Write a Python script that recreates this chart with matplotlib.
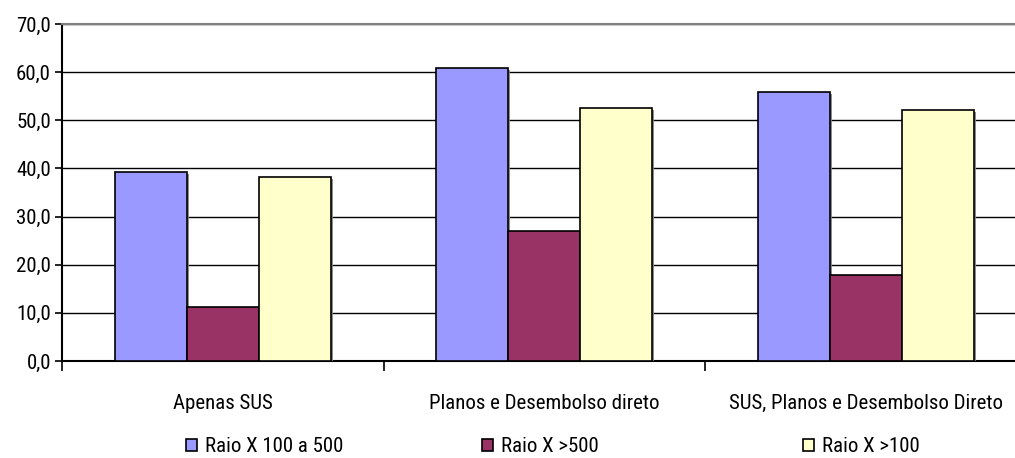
import matplotlib
matplotlib.use("Agg")
import matplotlib.pyplot as plt
from matplotlib.patches import Patch
from matplotlib import patheffects as pe

categories = ["Apenas SUS", "Planos e Desembolso direto", "SUS, Planos e Desembolso Direto"]
series_names = ["Raio X 100 a 500", "Raio X >500", "Raio X >100"]
raio_100_500 = [39.2, 60.8, 55.8]
raio_500 = [11.2, 26.9, 17.8]
raio_100 = [38.3, 52.5, 52.1]
colors = ["#9999FF", "#993366", "#FFFFCC"]

plt.rcParams["font.family"] = ["Liberation Sans Narrow", "Roboto Condensed", "DejaVu Sans"]
plt.rcParams["font.stretch"] = "condensed"
plt.rcParams["font.size"] = 15

fig = plt.figure(figsize=(10.15, 4.58), dpi=100)
ax = fig.add_axes([62 / 1015, 1 - 361 / 458, 964.5 / 1015, 337 / 458])

width = 0.224
shadow = [pe.SimplePatchShadow(offset=(1.5, -1.5), shadow_rgbFace="#808080", alpha=0.9), pe.Normal()]
for i, vals in enumerate([raio_100_500, raio_500, raio_100]):
    xs = [k + (i - 1) * width for k in range(len(categories))]
    bars = ax.bar(xs, vals, width, color=colors[i], edgecolor="black", linewidth=1.2, zorder=3,
                  label=series_names[i])
    for b in bars:
        b.set_path_effects(shadow)

ax.set_xlim(-0.5, 2.5)
ax.set_ylim(0, 70)
ax.set_yticks(range(0, 71, 10))
ax.set_yticklabels([f"{v},0" for v in range(0, 71, 10)])
ax.yaxis.grid(True, color="black", linewidth=1.0, zorder=1)
ax.tick_params(axis="y", direction="out", length=5, width=1.2, pad=3)

ax.set_xticks([-0.5, 0.5, 1.5, 2.5])
ax.set_xticklabels([])
ax.tick_params(axis="x", which="major", direction="out", length=7, width=1.2)
ax.set_xticks([0, 1, 2], minor=True)
ax.set_xticklabels(categories, minor=True)
ax.tick_params(axis="x", which="minor", length=0, pad=24)

for s in ["left", "bottom"]:
    ax.spines[s].set_linewidth(1.5)
ax.spines["top"].set_color("#808080")
ax.spines["top"].set_linewidth(1.5)
ax.spines["right"].set_visible(False)
ax.set_axisbelow(True)

for i, xm in enumerate([186, 482, 803]):
    fig.legend(handles=[Patch(facecolor=colors[i], edgecolor="black", linewidth=1.2)],
               labels=[series_names[i]], loc="center left",
               bbox_to_anchor=(xm / 1015, 1 - 447 / 458), frameon=False,
               borderpad=0, borderaxespad=0, handlelength=0.55, handleheight=0.55,
               handletextpad=0.35)

fig.savefig("out.png", dpi=100)
